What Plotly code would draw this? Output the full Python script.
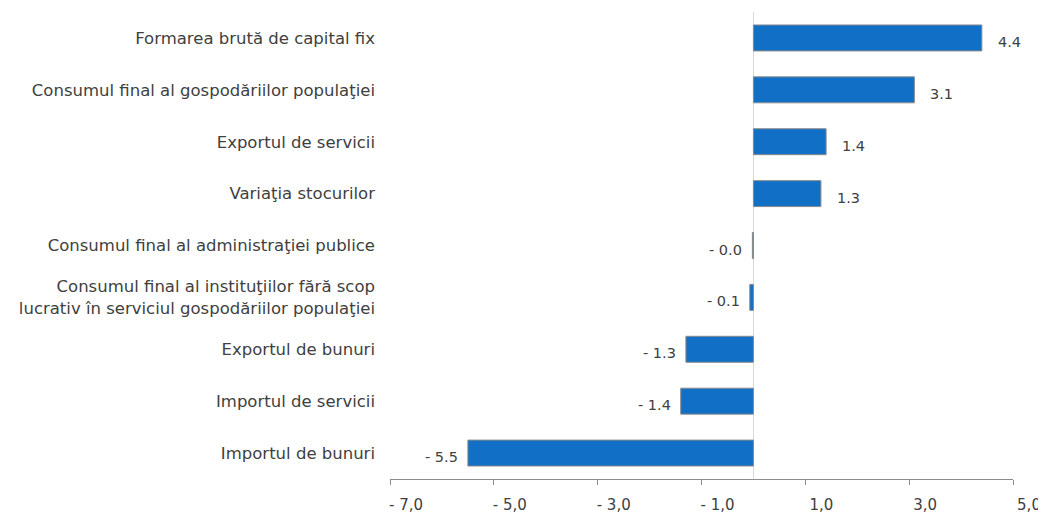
import plotly.graph_objects as go

categories = [
    "Formarea brută de capital fix",
    "Consumul final al gospodăriilor populaţiei",
    "Exportul de servicii",
    "Variaţia stocurilor",
    "Consumul final al administraţiei publice",
    "Consumul final al instituţiilor fără scop<br>lucrativ în serviciul gospodăriilor populaţiei",
    "Exportul de bunuri",
    "Importul de servicii",
    "Importul de bunuri",
]
values = [4.4, 3.1, 1.4, 1.3, -0.02, -0.07, -1.3, -1.4, -5.5]
value_labels = ["4.4", "3.1", "1.4", "1.3", "- 0.0", "- 0.1", "- 1.3", "- 1.4", "- 5.5"]
tick_vals = [-7, -5, -3, -1, 1, 3, 5]
tick_text = ["- 7,0", "- 5,0", "- 3,0", "- 1,0", "1,0", "3,0", "5,0"]

font_name = "DejaVu Sans, sans-serif"

fig = go.Figure()
fig.add_trace(go.Bar(
    x=values, y=categories, orientation="h", width=0.5,
    marker=dict(color="#116FC6", line=dict(color="#8A8A8A", width=1)),
    showlegend=False,
))

# value labels next to the bars
for cat, v, lab in zip(categories, values, value_labels):
    fig.add_annotation(
        x=v, y=cat, text=lab, showarrow=False,
        xanchor="left" if v > 0 else "right",
        xshift=14 if v > 0 else -8, yshift=-4,
        font=dict(family=font_name, size=14.5, color="#404040"),
    )

fig.update_xaxes(
    range=[-7, 5], tickvals=tick_vals, ticktext=tick_text,
    showgrid=False, zeroline=True, zerolinecolor="#D9D9D9", zerolinewidth=1,
    showline=True, linecolor="#8C8C8C", linewidth=1,
    ticks="outside", ticklen=5, tickcolor="#8C8C8C",
    ticklabelshift=16, ticklabelstandoff=7,
    tickfont=dict(family=font_name, size=15, color="#404040"),
)
fig.update_yaxes(
    autorange="reversed", showgrid=False, showline=False, ticks="",
    ticklabelstandoff=14,
    tickfont=dict(family=font_name, size=16.5, color="#404040"),
)
fig.update_layout(
    width=1046, height=512,
    margin=dict(l=382, r=41, t=4, b=41, autoexpand=False),
    plot_bgcolor="white", paper_bgcolor="white",
    font=dict(family=font_name),
    bargap=0.5,
)

fig.write_html("out.html")
